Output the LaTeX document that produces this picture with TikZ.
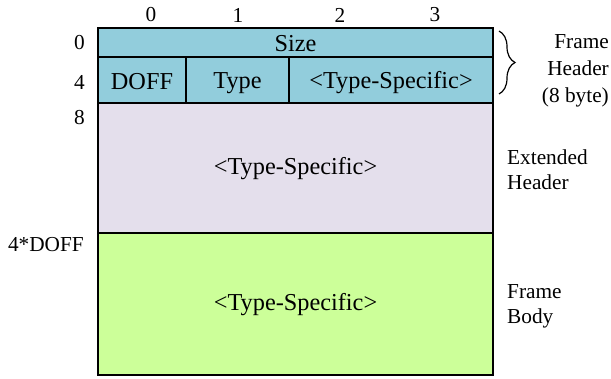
\documentclass[tikz,border=0pt]{standalone}
\usepackage{fontspec}
\setmainfont{Liberation Serif}
\usetikzlibrary{decorations.pathreplacing}
\definecolor{hdrblue}{RGB}{146,205,220}
\definecolor{extlilac}{RGB}{228,223,236}
\definecolor{bodygreen}{RGB}{204,255,153}
\tikzset{
	cell/.style={font=\fontsize{24.3}{28}\selectfont, inner sep=0pt},
	lbl/.style={font=\fontsize{21.3}{25}\selectfont, inner sep=0pt},
	frameline/.style={line width=2pt, draw=black}
}

\begin{document}
\begin{tikzpicture}[x=1pt, y=-1pt]
			%%%%% START %%%%%
			\useasboundingbox (0, 0) rectangle (611, 379);
			
			\draw[frameline, fill=hdrblue] (98, 28) rectangle (493, 57);
			\draw[frameline, fill=hdrblue] (98, 57) rectangle (493, 103);
			\draw[frameline] (186, 57) -- (186, 103);
			\draw[frameline] (289, 57) -- (289, 103);
			\draw[frameline, fill=extlilac] (98, 103) rectangle (493, 233);
			\draw[frameline, fill=bodygreen] (98, 233) rectangle (493, 375);
			
			\node[cell] (size) at (295.5, 44) {Size};
			\node[cell] (doff) at (142, 82) {DOFF};
			\node[cell] (type) at (237.5, 83) {Type};
			\node[cell] (tsHdr) at (391, 83) {<Type-Specific>};
			\node[cell] (tsExt) at (295.5, 169) {<Type-Specific>};
			\node[cell] (tsBody) at (295.5, 305) {<Type-Specific>};
			
			\node[lbl] (col0) at (151, 15) {0};
			\node[lbl] (col1) at (238, 15) {1};
			\node[lbl] (col2) at (340, 15) {2};
			\node[lbl] (col3) at (435, 15) {3};
			
			\node[lbl, anchor=east] (row0) at (85, 43) {0};
			\node[lbl, anchor=east] (row4) at (85, 82) {4};
			\node[lbl, anchor=east] (row8) at (85, 118) {8};
			\node[lbl, anchor=east] (rowDoff) at (84, 245) {4*DOFF};
			
			\draw[line width=1.2pt, decorate, decoration={brace, amplitude=16pt}] (499, 31) -- (499, 94);
			
			\node[lbl, font=\fontsize{21.3}{27}\selectfont, align=right, anchor=east] (frameHdr) at (609, 71) {Frame\\Header\\(8 byte)};
			\node[lbl, align=left, anchor=west] (extHdr) at (507, 170) {Extended\\Header};
			\node[lbl, align=left, anchor=west] (frameBody) at (507, 306) {Frame\\Body};
			
			%%%%% END %%%%%
		\end{tikzpicture}
\end{document}
